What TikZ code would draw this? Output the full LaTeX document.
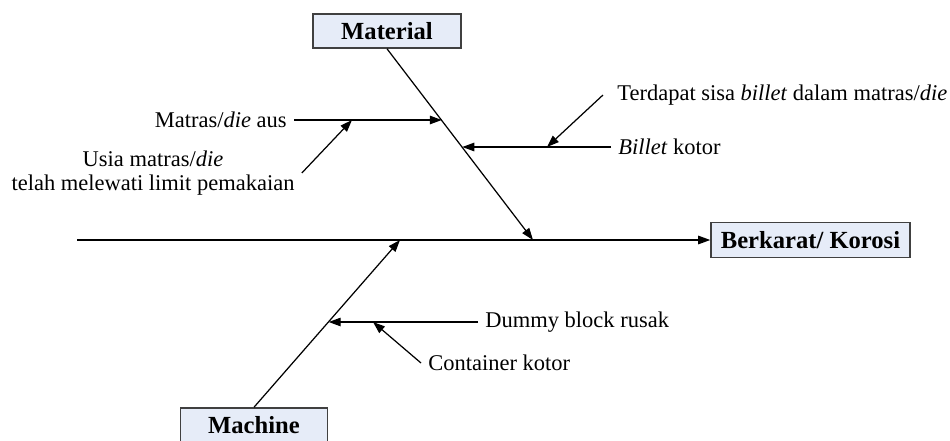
\documentclass[tikz,border=0pt]{standalone}
\usepackage{fontspec}
\setmainfont{Liberation Serif}
\usetikzlibrary{arrows.meta,positioning,calc}
\definecolor{boxcol}{RGB}{230,236,248}
\definecolor{edgecol}{RGB}{64,64,64}

\begin{document}
\begin{tikzpicture}[
  x=0.02cm, y=-0.02cm,
  catbox/.style={rectangle, draw=edgecol, line width=0.9pt, fill=boxcol,
                 font=\fontsize{14}{16}\selectfont\bfseries, inner sep=0pt},
  cause/.style={font=\fontsize{12.8}{13.5}\selectfont, inner sep=4pt},
  bone/.style={line width=0.7pt, -{Triangle[length=2.4mm,width=1.7mm]}}
]
  \useasboundingbox (0,0) rectangle (950,440);

  % Category boxes and effect
  \node[catbox, minimum width=2.96cm, minimum height=0.68cm] (material)
    at (387,31) {Material};
  \node[catbox, minimum width=2.94cm, minimum height=0.68cm] (machine)
    at (254,425) {Machine};
  \node[catbox, minimum width=3.98cm, minimum height=0.70cm] (effect)
    at (810.5,240) {Berkarat/ Korosi};

  % Points on spine and bones
  \coordinate (tail)   at (77,240);
  \coordinate (mattip) at (533,240);
  \coordinate (mactip) at (400,240);
  \coordinate (m1)  at (441.8,120);
  \coordinate (m1a) at (352,120);
  \coordinate (m2)  at (462.3,147);
  \coordinate (m2a) at (547,147);
  \coordinate (c1)  at (328.7,322);
  \coordinate (c1a) at (373,322);

  % Causes
  \node[cause, anchor=east] (matras) at (294,120) {Matras/\textit{die} aus};
  \node[cause, align=center] (usia) at (153,173)
    {Usia matras/\textit{die}\\telah melewati limit pemakaian};
  \node[cause, anchor=west] (sisa) at (610,95)
    {Terdapat sisa \textit{billet} dalam matras/\textit{die}};
  \node[cause, anchor=west] (billet) at (611,147) {\textit{Billet} kotor};
  \node[cause, anchor=west] (dummy) at (478,322) {Dummy block rusak};
  \node[cause, anchor=west] (container) at (421,363) {Container kotor};

  % Spine and bones
  \draw[bone] (tail) -- (effect.west);
  \draw[bone] (material.south) -- (mattip);
  \draw[bone] (machine.north) -- (mactip);

  % Sub-causes
  \draw[bone] (matras.east) -- (m1);
  \draw[bone] (usia.east) -- (m1a);
  \draw[bone] ([xshift=-4pt]sisa.west) -- (m2a);
  \draw[bone] (billet.west) -- (m2);
  \draw[bone] (dummy.west) -- (c1);
  \draw[bone] (container.west) -- (c1a);
\end{tikzpicture}
\end{document}
